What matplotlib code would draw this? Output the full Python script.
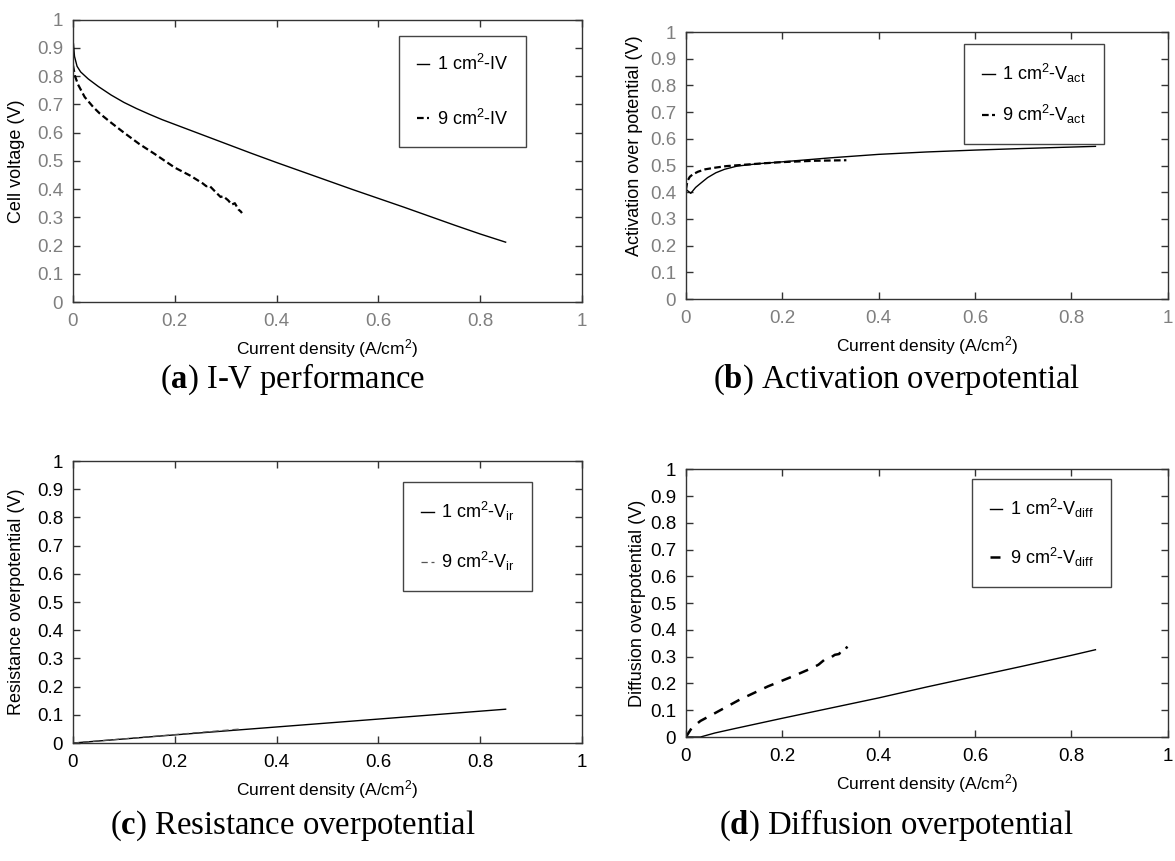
# Fuel cell polarisation comparison: 1 cm2 vs 9 cm2 cell
import matplotlib
matplotlib.use('Agg')
import matplotlib.pyplot as plt

# Fonts ************************************************************************
plt.rcParams['font.family'] = ['Liberation Sans', 'DejaVu Sans']
plt.rcParams['mathtext.fontset'] = 'custom'
plt.rcParams['mathtext.default'] = 'regular'
plt.rcParams['mathtext.bf'] = 'Liberation Serif:bold'

# Data *************************************************************************
# (a) I-V performance
iv1_x = [0.001, 0.003, 0.008, 0.015, 0.03, 0.05, 0.075, 0.1, 0.125, 0.15, 0.175, 0.2, 0.25,
		 0.3, 0.35, 0.4, 0.45, 0.5, 0.55, 0.6, 0.65, 0.7, 0.75, 0.8, 0.85]
iv1_y = [0.914, 0.87, 0.835, 0.815, 0.79, 0.763, 0.733, 0.707, 0.685, 0.665, 0.646, 0.629,
		 0.595, 0.561, 0.527, 0.494, 0.462, 0.43, 0.398, 0.367, 0.336, 0.304, 0.272, 0.241, 0.212]
iv9_x = [0, 0.004, 0.01, 0.023, 0.04, 0.053, 0.075, 0.1, 0.13, 0.16, 0.2, 0.23, 0.255,
		 0.262, 0.268, 0.28, 0.29, 0.295, 0.305, 0.312, 0.318, 0.325, 0.33, 0.332]
iv9_y = [0.838, 0.80, 0.77, 0.726, 0.69, 0.667, 0.635, 0.6, 0.56, 0.525, 0.476, 0.448,
		 0.42, 0.41, 0.412, 0.39, 0.372, 0.375, 0.36, 0.345, 0.35, 0.328, 0.32, 0.315]

# (b) Activation overpotential
act1_x = [0, 0.01, 0.02, 0.032, 0.045, 0.062, 0.08, 0.106, 0.15, 0.2, 0.3, 0.4, 0.5, 0.6, 0.7, 0.85]
act1_y = [0.411, 0.396, 0.418, 0.436, 0.455, 0.473, 0.486, 0.498, 0.507, 0.514, 0.529,
		  0.542, 0.551, 0.558, 0.564, 0.572]
act9_x = [0, 0.003, 0.008, 0.014, 0.025, 0.04, 0.06, 0.084, 0.12, 0.157, 0.2, 0.267, 0.333]
act9_y = [0.41, 0.442, 0.458, 0.467, 0.477, 0.486, 0.492, 0.498, 0.503, 0.508, 0.513, 0.518, 0.52]

# (c) Resistance overpotential
ir1_x = [0, 0.2, 0.4, 0.6, 0.85]
ir1_y = [0, 0.029, 0.057, 0.085, 0.12]
ir9_x = [0, 0.1, 0.2, 0.33]
ir9_y = [0, 0.015, 0.030, 0.050]

# (d) Diffusion overpotential
dif1_x = [0.005, 0.03, 0.06, 0.1, 0.2, 0.3, 0.4, 0.5, 0.6, 0.7, 0.8, 0.85]
dif1_y = [0.0, 0.0, 0.015, 0.031, 0.07, 0.108, 0.146, 0.187, 0.226, 0.265, 0.305, 0.326]
dif9_x = [0, 0.012, 0.03, 0.06, 0.111, 0.17, 0.221, 0.261, 0.275, 0.287, 0.295,
		  0.309, 0.318, 0.325, 0.33, 0.335]
dif9_y = [0, 0.034, 0.06, 0.089, 0.139, 0.189, 0.226, 0.257, 0.27, 0.288, 0.29,
		  0.307, 0.31, 0.33, 0.325, 0.338]

ticks = [0, 0.2, 0.4, 0.6, 0.8, 1]
yticks = [0, 0.1, 0.2, 0.3, 0.4, 0.5, 0.6, 0.7, 0.8, 0.9, 1]
tick_lbl_x = ['0', '0.2', '0.4', '0.6', '0.8', '1']
tick_lbl_y = ['0', '0.1', '0.2', '0.3', '0.4', '0.5', '0.6', '0.7', '0.8', '0.9', '1']


# Panel helper *****************************************************************
def makePanel(fig, rect, ylabel, ylabCoords, tickColor):
	ax = fig.add_axes(rect)
	ax.set_xlim(0, 1)
	ax.set_ylim(0, 1)
	ax.set_xticks(ticks)
	ax.set_xticklabels(tick_lbl_x)
	ax.set_yticks(yticks)
	ax.set_yticklabels(tick_lbl_y)
	ax.tick_params(direction='in', length=5, width=1, top=True, right=True,
				   labelsize=13.5, labelcolor=tickColor, color='#333333')
	ax.tick_params(axis='x', pad=8)
	ax.tick_params(axis='y', pad=7)
	for s in ax.spines.values():
		s.set_color('#333333')
		s.set_linewidth(1.0)
	ax.set_xlabel('Current density (A/cm$^2$)', fontsize=12.5, labelpad=5)
	ax.set_ylabel(ylabel, fontsize=13)
	ax.yaxis.set_label_coords(ylabCoords[0], ylabCoords[1])
	return ax


def addLegend(ax, legPos, spacing):
	leg = ax.legend(loc='upper left', bbox_to_anchor=legPos, borderaxespad=0,
					fontsize=13, frameon=True, fancybox=False, framealpha=1,
					edgecolor='#444444', borderpad=1.0, labelspacing=spacing,
					handlelength=0.7, handletextpad=0.4)
	leg.get_frame().set_linewidth(1.0)
	return leg


# Main  ************************************************************************
def main():
	fig = plt.figure(figsize=(11.75, 8.61), dpi=100)

	# (a)
	ax = makePanel(fig, [0.0621, 0.6492, 0.4332, 0.328], 'Cell voltage (V)',
				   (-0.094, 0.5), '#7f7f7f')
	ax.plot(iv1_x, iv1_y, color='black', lw=1.0, label='1 cm$^2$-IV')
	ax.plot(iv9_x, iv9_y, color='black', lw=1.6, dashes=(3, 1.5), label='9 cm$^2$-IV')
	addLegend(ax, (0.640, 0.942), 1.9)

	# (b)
	ax = makePanel(fig, [0.5838, 0.6527, 0.410, 0.310], 'Activation over potential (V)',
				   (-0.089, 0.573), '#7f7f7f')
	ax.plot(act1_x, act1_y, color='black', lw=1.0, label='1 cm$^2$-V$_{act}$')
	ax.plot(act9_x, act9_y, color='black', lw=1.6, dashes=(3, 1.5), label='9 cm$^2$-V$_{act}$')
	addLegend(ax, (0.577, 0.955), 1.0)

	# (c)
	ax = makePanel(fig, [0.0621, 0.137, 0.4332, 0.3275], 'Resistance overpotential (V)',
				   (-0.094, 0.5), 'black')
	ax.plot(ir1_x, ir1_y, color='black', lw=1.0, label='1 cm$^2$-V$_{ir}$')
	ax.plot(ir9_x, ir9_y, color='#555555', lw=0.9, dashes=(5, 3), label='9 cm$^2$-V$_{ir}$')
	addLegend(ax, (0.648, 0.926), 1.5)

	# (d)
	ax = makePanel(fig, [0.5838, 0.144, 0.410, 0.311], 'Diffusion overpotential (V)',
				   (-0.083, 0.5), 'black')
	ax.plot(dif1_x, dif1_y, color='black', lw=1.0, label='1 cm$^2$-V$_{diff}$')
	ax.plot(dif9_x, dif9_y, color='black', lw=1.8, dashes=(4, 3.5), label='9 cm$^2$-V$_{diff}$')
	addLegend(ax, (0.593, 0.963), 1.4)

	# captions
	capFont = dict(family='Liberation Serif', fontsize=23.5, ha='center', va='center')
	fig.text(0.249, 0.559, r'($\mathbf{a}$) I-V performance', **capFont)
	fig.text(0.763, 0.559, r'($\mathbf{b}$) Activation overpotential', **capFont)
	fig.text(0.249, 0.041, r'($\mathbf{c}$) Resistance overpotential', **capFont)
	fig.text(0.763, 0.041, r'($\mathbf{d}$) Diffusion overpotential', **capFont)

	fig.savefig('out.png', dpi=100)


# run main module if not imported
if __name__ == "__main__":
	main()
